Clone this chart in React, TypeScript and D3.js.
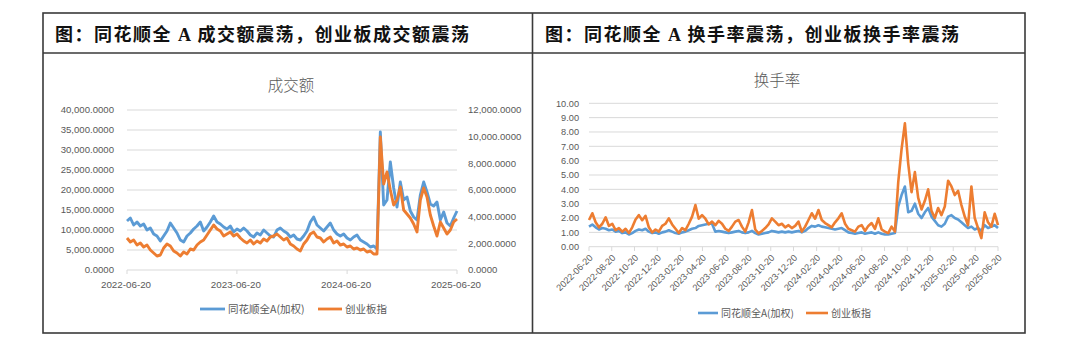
import React from 'react';
import * as d3 from 'd3';

const START = '2022-06-20';
const END = '2025-06-20';

const panelTitles = ['图：同花顺全 A 成交额震荡，创业板成交额震荡', '图：同花顺全 A 换手率震荡，创业板换手率震荡'];
const chartTitles = ['成交额', '换手率'];
const seriesNames = ['同花顺全A(加权)', '创业板指'];

const volumeXTicks = ['2022-06-20', '2023-06-20', '2024-06-20', '2025-06-20'];
const volumeLeftTicks = [0, 5000, 10000, 15000, 20000, 25000, 30000, 35000, 40000];
const volumeRightTicks = [0, 2000, 4000, 6000, 8000, 10000, 12000];
const turnoverYTicks = [0, 1, 2, 3, 4, 5, 6, 7, 8, 9, 10];
const turnoverXTicks = [
  '2022-06-20', '2022-08-20', '2022-10-20', '2022-12-20', '2023-02-20', '2023-04-20',
  '2023-06-20', '2023-08-20', '2023-10-20', '2023-12-20', '2024-02-20', '2024-04-20',
  '2024-06-20', '2024-08-20', '2024-10-20', '2024-12-20', '2025-02-20', '2025-04-20', '2025-06-20',
];

// 成交额 — 同花顺全A(加权), left axis
const volumeAll = [
  12250, 13000, 11250, 12000, 11000, 11500, 10000, 10500, 9000, 8500,
  7250, 8500, 9750, 11750, 10500, 9250, 7500, 7000, 8500, 9250,
  10250, 11000, 12000, 9750, 10750, 12000, 13500, 12000, 11500, 10750,
  10250, 11000, 9500, 10250, 9750, 10500, 9750, 8750, 8250, 9250,
  8750, 10000, 9250, 8500, 8250, 10000, 10500, 9750, 9250, 8250,
  8750, 7750, 7500, 8500, 9750, 12000, 13250, 11250, 10500, 9750,
  10750, 11750, 10000, 9000, 8500, 9000, 8000, 7500, 8250, 8750,
  7500, 7000, 6500, 5750, 6000, 5250, 34500, 16250, 17500, 27000,
  20500, 15750, 22000, 17500, 18250, 14750, 13250, 12500, 18750, 22000,
  19500, 16500, 16000, 17000, 12500, 14500, 11750, 11000, 13000, 14750,
];
// 成交额 — 创业板指, right axis
const volumeCYB = [
  2400, 2100, 2250, 1875, 2025, 1725, 1875, 1500, 1275, 1050,
  1125, 1650, 1950, 1800, 1425, 1275, 1050, 1350, 1200, 1575,
  1500, 1875, 2100, 2250, 2625, 3000, 3375, 3075, 2925, 2550,
  2700, 2850, 2550, 2700, 2400, 2175, 2025, 2250, 1950, 2175,
  2025, 2325, 2175, 2475, 2550, 2700, 2475, 2250, 2400, 1950,
  1800, 1575, 1425, 1950, 2250, 2700, 2850, 2475, 2400, 2100,
  2325, 2475, 2025, 2175, 1875, 1950, 1725, 1800, 1575, 1650,
  1500, 1575, 1350, 1425, 1200, 1200, 9975, 6450, 7350, 6000,
  4875, 5250, 6225, 4500, 4200, 3900, 3450, 2850, 5250, 6150,
  5475, 4125, 3300, 2550, 3600, 3150, 2700, 3000, 3600, 3825,
];
// 换手率 — 同花顺全A(加权)
const turnoverAll = [
  1.4, 1.55, 1.35, 1.2, 1.3, 1.25, 1.15, 1.2, 1.05, 1.1,
  0.95, 1.0, 0.85, 0.95, 1.1, 1.2, 1.15, 1.25, 1.05, 0.95,
  1.0, 0.9, 1.0, 1.05, 1.15, 1.05, 0.95, 0.9, 1.0, 1.05,
  1.15, 1.25, 1.3, 1.45, 1.5, 1.55, 1.6, 1.6, 1.05, 1.1,
  1.05, 1.0, 0.95, 1.0, 1.05, 1.1, 1.0, 0.95, 1.0, 1.1,
  0.95, 0.85, 0.9, 0.95, 1.0, 1.1, 1.05, 1.0, 1.05, 1.0,
  1.05, 1.0, 1.05, 1.1, 1.0, 1.1, 1.3, 1.45, 1.4, 1.5,
  1.4, 1.35, 1.3, 1.25, 1.2, 1.25, 1.3, 1.15, 1.0, 0.95,
  0.9, 0.95, 1.0, 0.9, 0.95, 1.0, 0.9, 1.0, 0.9, 0.85,
  0.85, 0.9, 0.95, 2.8, 3.6, 4.2, 2.4, 2.5, 3.0, 2.3,
  2.0, 2.4, 2.7, 2.1, 1.8, 1.5, 1.4, 1.6, 2.1, 2.2,
  2.0, 1.9, 1.7, 1.5, 1.3, 1.4, 1.2, 1.3, 1.1, 1.5,
  1.3, 1.4, 1.5, 1.3,
];
// 换手率 — 创业板指
const turnoverCYB = [
  1.86, 2.33, 1.7, 1.35, 1.6, 2.05, 1.45, 1.6, 1.15, 1.3,
  1.05, 1.25, 0.95, 1.35, 1.9, 2.2, 1.85, 2.15, 1.35, 1.0,
  1.2, 1.05, 1.45, 1.6, 1.98, 1.55, 1.25, 0.95, 1.3, 1.15,
  1.6, 2.1, 2.9, 1.95, 2.2, 1.95, 1.55, 1.75, 1.5, 1.8,
  1.6, 1.25, 1.1, 1.4, 1.75, 1.86, 1.4, 1.05, 1.7, 2.56,
  1.2, 0.93, 1.1, 1.3, 1.55, 1.98, 1.75, 1.5, 1.6, 1.35,
  1.5, 1.3, 1.45, 1.75, 1.05, 1.4, 1.86, 2.33, 1.95, 2.56,
  1.86, 1.65, 1.5, 1.35, 1.7, 1.98, 2.33, 1.6, 1.25, 1.15,
  1.05, 1.4, 1.5, 1.1, 1.45, 1.65, 1.25, 1.98, 1.2, 1.05,
  0.95, 1.4, 1.05, 4.5, 6.8, 8.6, 5.8, 3.8, 5.2, 3.4,
  2.6, 3.2, 4.0, 2.5, 2.0, 2.7, 2.2, 2.8, 4.6, 4.2,
  3.6, 3.9, 2.9, 2.1, 1.5, 4.2, 2.0, 1.3, 0.6, 2.4,
  1.7, 1.4, 2.3, 1.5,
];

const BLUE = '#5B9BD5';
const ORANGE = '#ED7D31';
const GRID = '#D9D9D9';
const TEXT = '#595959';
const BORDER = '#3A3A3A';
const CJK = '"Noto Sans CJK SC", sans-serif';
const NUM = '"Liberation Sans", Arial, sans-serif';

const parse = d3.timeParse('%Y-%m-%d');
const t0 = parse(START) as Date;
const t1 = parse(END) as Date;
const datesFor = (n: number) => d3.range(n).map((i) => new Date(+t0 + ((+t1 - +t0) * i) / (n - 1)));

function VolumeChart() {
  const x = d3.scaleTime().domain([t0, t1]).range([127, 457]);
  const yL = d3.scaleLinear().domain([0, 40000]).range([270, 110]);
  const yR = d3.scaleLinear().domain([0, 12000]).range([270, 110]);
  const dates = datesFor(volumeAll.length);
  const lineL = d3.line<number>().x((_, i) => x(dates[i])).y((d) => yL(d));
  const lineR = d3.line<number>().x((_, i) => x(dates[i])).y((d) => yR(d));
  const fmt = d3.format(',.4f');
  return (
    <g>
      <text x={291} y={91} textAnchor="middle" fontFamily={CJK} fontSize={15.5} fontWeight={300} fill={TEXT}>{chartTitles[0]}</text>
      {volumeLeftTicks.map((v) => (
        <g key={v}>
          <line x1={127} x2={457} y1={yL(v)} y2={yL(v)} stroke={GRID} strokeWidth={1} />
          <text x={114} y={yL(v)} dy="0.35em" textAnchor="end" fontFamily={NUM} fontSize={9.6} fill={TEXT}>{fmt(v)}</text>
        </g>
      ))}
      {volumeRightTicks.map((v) => (
        <text key={v} x={468} y={yR(v)} dy="0.35em" textAnchor="start" fontFamily={NUM} fontSize={9.6} fill={TEXT}>{fmt(v)}</text>
      ))}
      {volumeXTicks.map((s) => {
        const d = parse(s) as Date;
        return (
          <g key={s}>
            <line x1={x(d)} x2={x(d)} y1={270} y2={274} stroke={GRID} />
            <text x={x(d) - 1} y={288} textAnchor="middle" fontFamily={NUM} fontSize={9.8} fill={TEXT}>{s}</text>
          </g>
        );
      })}
      <path d={lineL(volumeAll) || ''} fill="none" stroke={BLUE} strokeWidth={2.9} strokeLinejoin="round" />
      <path d={lineR(volumeCYB) || ''} fill="none" stroke={ORANGE} strokeWidth={2.9} strokeLinejoin="round" />
      <line x1={200} x2={225} y1={309} y2={309} stroke={BLUE} strokeWidth={2.8} />
      <text x={228} y={309} dy="0.35em" fontFamily={CJK} fontSize={10.5} fill={TEXT}>{seriesNames[0]}</text>
      <line x1={318} x2={342} y1={309} y2={309} stroke={ORANGE} strokeWidth={2.8} />
      <text x={345} y={309} dy="0.35em" fontFamily={CJK} fontSize={10.5} fill={TEXT}>{seriesNames[1]}</text>
    </g>
  );
}

function TurnoverChart() {
  const x = d3.scaleTime().domain([t0, t1]).range([589, 998]);
  const y = d3.scaleLinear().domain([0, 10]).range([246.7, 103.3]);
  const dates = datesFor(turnoverAll.length);
  const line = d3.line<number>().x((_, i) => x(dates[i])).y((d) => y(d));
  const fmt = d3.format('.2f');
  return (
    <g>
      <text x={777} y={86} textAnchor="middle" fontFamily={CJK} fontSize={15.5} fontWeight={300} fill={TEXT}>{chartTitles[1]}</text>
      {turnoverYTicks.map((v) => (
        <g key={v}>
          <line x1={589} x2={998} y1={y(v)} y2={y(v)} stroke={GRID} strokeWidth={1} />
          <text x={579} y={y(v)} dy="0.35em" textAnchor="end" fontFamily={NUM} fontSize={9.2} fill={TEXT}>{fmt(v)}</text>
        </g>
      ))}
      {turnoverXTicks.map((s) => {
        const d = parse(s) as Date;
        const px = x(d);
        return (
          <g key={s}>
            <line x1={px} x2={px} y1={246.7} y2={251} stroke={GRID} />
            <text transform={`translate(${px + 2},${256}) rotate(-45)`} dy="0.35em" textAnchor="end" fontFamily={NUM} fontSize={9.2} fill={TEXT}>{s}</text>
          </g>
        );
      })}
      <path d={line(turnoverAll) || ''} fill="none" stroke={BLUE} strokeWidth={2.6} strokeLinejoin="round" />
      <path d={line(turnoverCYB) || ''} fill="none" stroke={ORANGE} strokeWidth={2.6} strokeLinejoin="round" />
      <line x1={698} x2={718} y1={313} y2={313} stroke={BLUE} strokeWidth={2.6} />
      <text x={721} y={313} dy="0.35em" fontFamily={CJK} fontSize={10} fill={TEXT}>{seriesNames[0]}</text>
      <line x1={806} x2={828} y1={313} y2={313} stroke={ORANGE} strokeWidth={2.6} />
      <text x={831} y={313} dy="0.35em" fontFamily={CJK} fontSize={10} fill={TEXT}>{seriesNames[1]}</text>
    </g>
  );
}

function PanelTitle({ x, text }: { x: number; text: string }) {
  const [pre, post] = text.split(' A ');
  return (
    <text x={x} y={41} fontFamily={CJK} fontSize={18} fontWeight={700} fill="#111" letterSpacing={1.5}>
      {pre}
      <tspan fontFamily='"Liberation Serif", serif' fontWeight={700}>{' A '}</tspan>
      {post}
    </text>
  );
}

export default function App() {
  return (
    <svg width={1065} height={352} style={{ position: 'absolute', left: 0, top: 0, background: '#fff' }}>
      <rect x={0} y={0} width={1065} height={352} fill="#fff" />
      <PanelTitle x={55} text={panelTitles[0]} />
      <PanelTitle x={545} text={panelTitles[1]} />
      <VolumeChart />
      <TurnoverChart />
      <rect x={43} y={13} width={982} height={320} fill="none" stroke={BORDER} strokeWidth={1.6} />
      <line x1={532.5} x2={532.5} y1={13} y2={333} stroke={BORDER} strokeWidth={1.6} />
      <line x1={43} x2={1025} y1={53} y2={53} stroke={BORDER} strokeWidth={1.6} />
    </svg>
  );
}
